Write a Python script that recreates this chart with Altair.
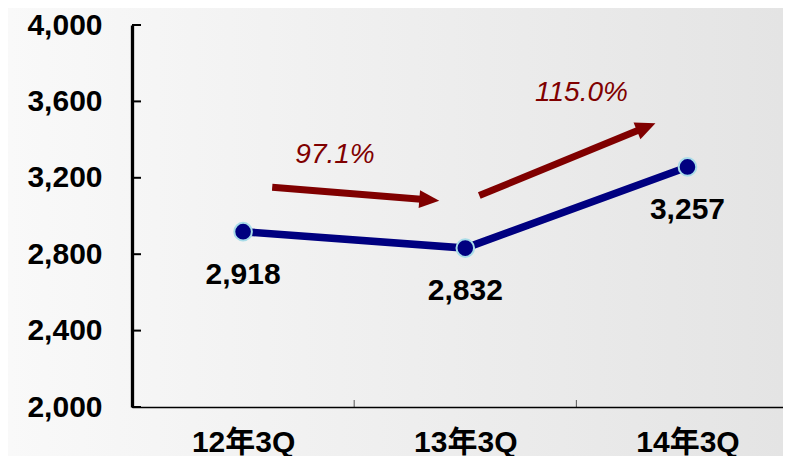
import altair as alt
import pandas as pd

categories = ["12年3Q", "13年3Q", "14年3Q"]
values = [2918, 2832, 3257]
value_labels = ["2,918", "2,832", "3,257"]
y_ticks = [2000, 2400, 2800, 3200, 3600, 4000]
growth_labels = ["97.1%", "115.0%"]

FONT = "Liberation Sans, Arial, Noto Sans CJK JP, sans-serif"
W, H = 651, 382
TOP = 17
RED = "#800000"
NAVY = "#000080"

df = pd.DataFrame({"idx": list(range(len(categories))), "cat": categories,
                   "value": values, "label": value_labels})

# annotation geometry (data coordinates)
arrows = pd.DataFrame({
    "idx": [0.131, 1.063], "value": [3150, 3107],
    "idx2": [0.829, 1.806], "value2": [3085, 3462],
})
heads = pd.DataFrame({"idx": [0.883, 1.856], "value": [3080, 3486], "angle": [4.5, 337.5]})
growth = pd.DataFrame({"idx": [0.414, 1.523], "value": [3320, 3642], "label": growth_labels})

label_expr = "[" + ",".join("'%s'" % c for c in categories) + "][datum.value]"

xscale = alt.Scale(domain=[-0.5, 2.43], nice=False, zero=False)
yscale = alt.Scale(domain=[2000, 4000], nice=False, zero=False)

xaxis = alt.Axis(values=list(range(len(categories))), labelExpr=label_expr, title=None,
                 grid=False, ticks=False, tickSize=0, domainColor="black", domainWidth=1.5,
                 labelFont=FONT, labelFontSize=30, labelFontWeight="bold", labelColor="black",
                 labelPadding=20, zindex=1)
yaxis = alt.Axis(values=y_ticks, format=",.0f", title=None, grid=False, ticks=False, tickSize=0,
                 domainColor="black", domainWidth=3.3, labelFont=FONT, labelFontSize=30,
                 labelFontWeight="bold", labelColor="black", labelPadding=30, zindex=1)

bg = alt.Chart(pd.DataFrame({"a": [0]})).mark_rect(
    color=alt.Gradient(gradient="linear", x1=0, x2=1, y1=0, y2=0,
                       stops=[alt.GradientStop(offset=0, color="#f9f9f9"),
                              alt.GradientStop(offset=1, color="#e4e4e4")])
).encode(x=alt.value(-124), x2=alt.value(W), y=alt.value(-TOP), y2=alt.value(H + 50))

ytick_rules = alt.Chart(pd.DataFrame({"value": y_ticks})).mark_rule(
    color="black", strokeWidth=2).encode(
    y=alt.Y("value:Q", scale=yscale, axis=yaxis), x=alt.value(0), x2=alt.value(9))

xtick_rules = alt.Chart(pd.DataFrame({"idx": [0.5, 1.5]})).mark_rule(
    color="#555555", strokeWidth=1).encode(
    x=alt.X("idx:Q", scale=xscale, axis=xaxis), y=alt.value(H), y2=alt.value(H - 7))

base = alt.Chart(df).encode(
    x=alt.X("idx:Q", scale=xscale, axis=xaxis),
    y=alt.Y("value:Q", scale=yscale, axis=yaxis),
)
line = base.mark_line(color=NAVY, strokeWidth=7.5)
pts = base.mark_point(filled=True, fill=NAVY, stroke="#a8dce8", strokeWidth=2,
                      size=310, opacity=1, shape="circle")
txt = base.mark_text(font=FONT, fontSize=30, fontWeight="bold", color="black",
                     dy=43, align="center", baseline="middle").encode(text="label:N")

shafts = alt.Chart(arrows).mark_rule(color=RED, strokeWidth=7, strokeCap="butt").encode(
    x="idx:Q", y="value:Q", x2="idx2:Q", y2="value2:Q")
arrowheads = alt.Chart(heads).mark_point(
    shape="M0,0L-2,-0.9L-2,0.9Z", filled=True, fill=RED, size=400, opacity=1,
    strokeWidth=0).encode(x="idx:Q", y="value:Q", angle=alt.Angle("angle:Q", scale=None))
gtext = alt.Chart(growth).mark_text(font=FONT, fontSize=28, fontStyle="italic",
                                    color=RED, align="center", baseline="middle").encode(
    x="idx:Q", y="value:Q", text="label:N")

chart = alt.layer(bg, ytick_rules, xtick_rules, line, pts, txt, shafts, arrowheads, gtext).properties(
    width=W, height=H,
    autosize=alt.AutoSizeParams(type="none"),
    padding={"left": 124, "top": TOP, "right": 0, "bottom": 448 - TOP - H},
).configure_view(stroke=None).configure(background="#f8f8f8")

chart.save("out.html", embed_options={"renderer": "svg", "actions": False})
